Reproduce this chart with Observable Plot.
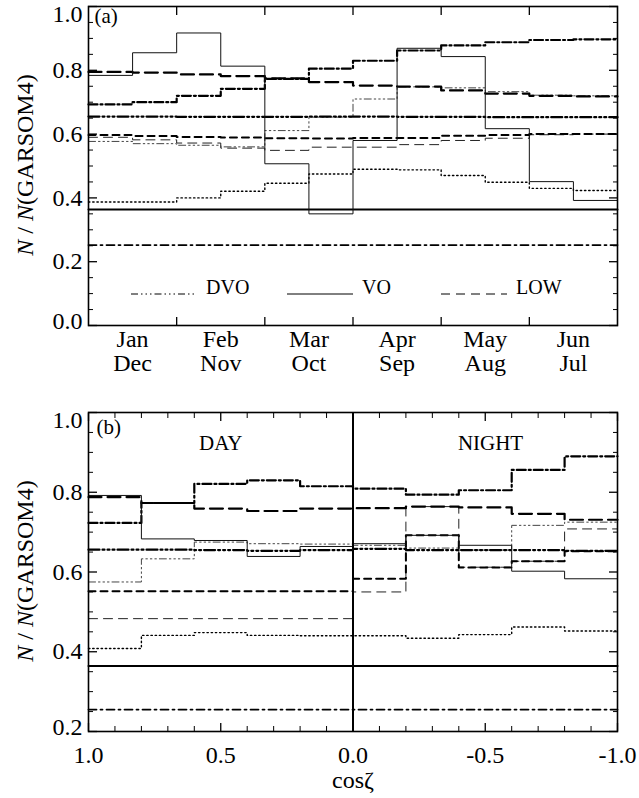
<!DOCTYPE html>
<html><head><meta charset="utf-8">
<script src="https://cdn.jsdelivr.net/npm/d3@7"></script>
<script src="https://cdn.jsdelivr.net/npm/@observablehq/plot@0.6"></script>
<style>
body{margin:0;background:#fff;}
#wrap{width:639px;height:798px;position:relative;overflow:hidden;}
#wrap svg{display:block;}
.legend{position:absolute;font-family:'Liberation Serif','Times New Roman',serif;font-size:20px;display:flex;align-items:flex-end;}
.legend svg{display:inline-block;margin-right:9px;}
</style></head><body><div id="wrap"></div>
<script>
// ---------- DATA ----------
const monthsTop = ["Jan", "Feb", "Mar", "Apr", "May", "Jun"];
const monthsBottom = ["Dec", "Nov", "Oct", "Sep", "Aug", "Jul"];
// panel (a): twelve half-month bins (Jan/Dec ... Jun/Jul)
const aVO        = [0.784, 0.855, 0.917, 0.813, 0.507, 0.350, 0.580, 0.869, 0.843, 0.617, 0.451, 0.392];
const aLongDash  = [0.795, 0.793, 0.787, 0.782, 0.775, 0.763, 0.752, 0.749, 0.737, 0.727, 0.720, 0.718];
const aDashDot   = [0.693, 0.700, 0.720, 0.742, 0.773, 0.805, 0.830, 0.862, 0.878, 0.888, 0.895, 0.897];
const aDVOthick  = [0.655, 0.655, 0.654, 0.654, 0.654, 0.655, 0.655, 0.654, 0.654, 0.653, 0.653, 0.653];
const aDVOthin   = [0.577, 0.570, 0.565, 0.560, 0.611, 0.653, 0.710, 0.748, 0.745, 0.733, 0.722, 0.720];
const aShortDash = [0.597, 0.594, 0.591, 0.589, 0.587, 0.586, 0.588, 0.588, 0.595, 0.597, 0.600, 0.600];
const aLOW       = [0.590, 0.582, 0.572, 0.556, 0.549, 0.559, 0.559, 0.567, 0.580, 0.587, 0.598, 0.600];
const aDotted    = [0.387, 0.387, 0.400, 0.421, 0.446, 0.475, 0.490, 0.488, 0.470, 0.449, 0.430, 0.423];
const aSolidFlat = [0.364];
const aDashDotFlat = [0.252];
// panel (b): ten cos(zenith) bins from 1.0 down to -1.0
const bVO        = [0.792, 0.683, 0.679, 0.639, 0.664, 0.671, 0.692, 0.667, 0.602, 0.583];
const bLongDash  = [0.788, 0.773, 0.759, 0.753, 0.759, 0.760, 0.764, 0.762, 0.746, 0.731];
const bDashDot   = [0.723, 0.773, 0.821, 0.830, 0.815, 0.809, 0.794, 0.805, 0.856, 0.890];
const bDVOthick  = [0.656, 0.656, 0.655, 0.653, 0.655, 0.658, 0.655, 0.655, 0.655, 0.653];
const bDVOthin   = [0.575, 0.633, 0.675, 0.671, 0.670, 0.667, 0.660, 0.655, 0.717, 0.725];
const bShortDash = [0.552, 0.552, 0.552, 0.552, 0.552, 0.583, 0.692, 0.611, 0.627, 0.652];
const bLOW       = [0.483, 0.483, 0.483, 0.483, 0.483, 0.550, 0.764, 0.612, 0.627, 0.708];
const bDotted    = [0.408, 0.441, 0.448, 0.441, 0.440, 0.440, 0.434, 0.443, 0.462, 0.452];
const bSolidFlat = [0.364];
const bDashDotFlat = [0.255];
const yTicksA = [0.0, 0.2, 0.4, 0.6, 0.8, 1.0];
const yTicksB = [0.2, 0.4, 0.6, 0.8, 1.0];
const xTicksB = [1.0, 0.5, 0.0, -0.5, -1.0];
const legendLabels = ["DVO", "VO", "LOW"];
const dayNight = ["DAY", "NIGHT"];

// ---------- STYLES ----------
const FONT = "'Liberation Serif','Times New Roman',serif";
const st = {
  VO:        {stroke: "#111", strokeWidth: 1},
  longDash:  {stroke: "#000", strokeWidth: 2.2, strokeDasharray: "13,6"},
  dashDot:   {stroke: "#000", strokeWidth: 2.2, strokeDasharray: "9,3,2,3"},
  dvoThick:  {stroke: "#000", strokeWidth: 2.2, strokeDasharray: "11,3,2,3,2,3,2,3"},
  dvoThin:   {stroke: "#444", strokeWidth: 1, strokeDasharray: "7,3,1.5,3,1.5,3,1.5,3"},
  shortDash: {stroke: "#000", strokeWidth: 2, strokeDasharray: "7,5"},
  low:       {stroke: "#222", strokeWidth: 1, strokeDasharray: "9,6"},
  dotted:    {stroke: "#000", strokeWidth: 1.4, strokeDasharray: "1.4,2.8"},
  solid:     {stroke: "#000", strokeWidth: 2},
  dashDotLo: {stroke: "#000", strokeWidth: 1.8, strokeDasharray: "8,4,2,4"}
};

function steps(values, x0, dx, n) {
  const count = n ?? values.length;
  const vals = values.length === 1 ? Array(count).fill(values[0]) : values;
  const pts = vals.map((v, i) => ({x: x0 + i * dx, y: v}));
  pts.push({x: x0 + vals.length * dx, y: vals[vals.length - 1]});
  return pts;
}
function stepLine(values, x0, dx, style, n) {
  return Plot.line(steps(values, x0, dx, n), {x: "x", y: "y", curve: "step-after", ...style});
}
const minor = (lo, hi, step, majors) =>
  d3.range(Math.round((hi - lo) / step) + 1).map(i => +(lo + i * step).toFixed(3))
    .filter(v => !majors.some(m => Math.abs(m - v) < 1e-6));
const blank = () => "";
const f1 = d => d.toFixed(1);

function addYTitle(svg, cy) {
  const t = d3.select(svg).append("text")
    .attr("transform", `translate(27,${cy}) rotate(-90)`)
    .attr("text-anchor", "middle").attr("dominant-baseline", "middle")
    .style("font-family", FONT).style("font-size", "24px").attr("fill", "#000");
  t.append("tspan").style("font-style", "italic").text("N");
  t.append("tspan").text(" / ");
  t.append("tspan").style("font-style", "italic").text("N");
  t.append("tspan").text("(GARSOM4)");
}
// y tick labels: the top one hangs below its tick, the bottom one sits a little above
function yLabels(ticks) {
  const top = ticks[ticks.length - 1], bottom = ticks[0];
  const mid = ticks.slice(1, -1);
  const common = {anchor: "left", tickSize: 0, tickPadding: 6, tickFormat: f1, label: null};
  return [
    Plot.axisY(mid, common),
    Plot.axisY([top], {...common, dy: 8}),
    Plot.axisY([bottom], {...common, dy: -4})
  ];
}

// ---------- PANEL (a) ----------
const hb = 0.5;
const chartA = Plot.plot({
  width: 639, height: 390,
  marginLeft: 88, marginRight: 22, marginTop: 6, marginBottom: 65,
  style: {fontFamily: FONT, fontSize: "24px", background: "white", color: "#000"},
  x: {domain: [0, 6], axis: null},
  y: {domain: [0, 1], axis: null},
  marks: [
    stepLine(aSolidFlat, 0, 6, st.solid, 1),
    stepLine(aDashDotFlat, 0, 6, st.dashDotLo, 1),
    stepLine(aDotted, 0, hb, st.dotted),
    stepLine(aLOW, 0, hb, st.low),
    stepLine(aShortDash, 0, hb, st.shortDash),
    stepLine(aDVOthin, 0, hb, st.dvoThin),
    stepLine(aDVOthick, 0, hb, st.dvoThick),
    stepLine(aLongDash, 0, hb, st.longDash),
    stepLine(aDashDot, 0, hb, st.dashDot),
    stepLine(aVO, 0, hb, st.VO),
    ...yLabels(yTicksA),
    Plot.axisY(yTicksA, {anchor: "left", tickSize: -9, tickFormat: blank, label: null, strokeWidth: 1.3}),
    Plot.axisY(minor(0, 1, 0.05, yTicksA), {anchor: "left", tickSize: -5, tickFormat: blank, label: null}),
    Plot.axisY(yTicksA, {anchor: "right", tickSize: -9, tickFormat: blank, label: null, strokeWidth: 1.3}),
    Plot.axisY(minor(0, 1, 0.05, yTicksA), {anchor: "right", tickSize: -5, tickFormat: blank, label: null}),
    Plot.axisX([1, 2, 3, 4, 5], {anchor: "bottom", tickSize: -8, tickFormat: blank, label: null, strokeWidth: 1.3}),
    Plot.axisX([1, 2, 3, 4, 5], {anchor: "top", tickSize: -8, tickFormat: blank, label: null, strokeWidth: 1.3}),
    Plot.text(monthsTop, {x: (d, i) => i + 0.5, frameAnchor: "bottom", dy: 4, lineAnchor: "top", lineHeight: 1.0,
      text: (d, i) => d + "\n" + monthsBottom[i], fontSize: 24}),
    Plot.text(["(a)"], {frameAnchor: "top-left", dx: 6, dy: 2, lineAnchor: "top", textAnchor: "start", fontSize: 21}),
    Plot.frame({stroke: "#000", strokeWidth: 1.6})
  ]
});

// ---------- PANEL (b) ----------
const bw = -0.2;
const chartB = Plot.plot({
  width: 639, height: 408,
  marginLeft: 88, marginRight: 22, marginTop: 22, marginBottom: 67,
  style: {fontFamily: FONT, fontSize: "24px", background: "white", color: "#000"},
  x: {domain: [1, -1], axis: null},
  y: {domain: [0.2, 1], axis: null},
  marks: [
    stepLine(bSolidFlat, 1, -2, st.solid, 1),
    stepLine(bDashDotFlat, 1, -2, st.dashDotLo, 1),
    stepLine(bDotted, 1, bw, st.dotted),
    stepLine(bLOW, 1, bw, st.low),
    stepLine(bShortDash, 1, bw, st.shortDash),
    stepLine(bDVOthin, 1, bw, st.dvoThin),
    stepLine(bDVOthick, 1, bw, st.dvoThick),
    stepLine(bLongDash, 1, bw, st.longDash),
    stepLine(bDashDot, 1, bw, st.dashDot),
    stepLine(bVO, 1, bw, st.VO),
    Plot.ruleX([0], {stroke: "#000", strokeWidth: 2}),
    ...yLabels(yTicksB),
    Plot.axisY(yTicksB, {anchor: "left", tickSize: -9, tickFormat: blank, label: null, strokeWidth: 1.3}),
    Plot.axisY(minor(0.2, 1, 0.05, yTicksB), {anchor: "left", tickSize: -5, tickFormat: blank, label: null}),
    Plot.axisY(yTicksB, {anchor: "right", tickSize: -9, tickFormat: blank, label: null, strokeWidth: 1.3}),
    Plot.axisY(minor(0.2, 1, 0.05, yTicksB), {anchor: "right", tickSize: -5, tickFormat: blank, label: null}),
    Plot.axisX(xTicksB, {anchor: "bottom", tickSize: -8, tickPadding: 22, tickFormat: f1, label: null, strokeWidth: 1.3}),
    Plot.axisX(minor(-1, 1, 0.1, xTicksB), {anchor: "bottom", tickSize: -5, tickFormat: blank, label: null}),
    Plot.axisX(xTicksB, {anchor: "top", tickSize: -8, tickFormat: blank, label: null, strokeWidth: 1.3}),
    Plot.axisX(minor(-1, 1, 0.1, xTicksB), {anchor: "top", tickSize: -5, tickFormat: blank, label: null}),
    Plot.text(["cosζ"], {frameAnchor: "bottom", dy: 56, fontSize: 24}),
    Plot.text(dayNight, {x: [0.5, -0.52], y: [0.922, 0.922], fontSize: 21}),
    Plot.text(["(b)"], {frameAnchor: "top-left", dx: 8, dy: 7, lineAnchor: "top", textAnchor: "start", fontSize: 21}),
    Plot.frame({stroke: "#000", strokeWidth: 1.6})
  ]
});

addYTitle(chartA, 165);
addYTitle(chartB, 571 - 390);

const wrap = document.getElementById("wrap");
wrap.appendChild(chartA);
wrap.appendChild(chartB);

// ---------- LEGEND (panel a) ----------
const legendStyles = [st.dvoThin, st.VO, st.low];
const legendLeft = [131, 287, 441];
legendLabels.forEach((lab, i) => {
  const s = legendStyles[i];
  const div = document.createElement("div");
  div.className = "legend";
  div.style.left = legendLeft[i] + "px";
  div.style.top = "277px";
  div.innerHTML = `<svg width="66" height="20"><line x1="0" x2="66" y1="17" y2="17" stroke="#000" stroke-width="${s.strokeWidth}" ${s.strokeDasharray ? `stroke-dasharray="${s.strokeDasharray}"` : ""}/></svg><span style="line-height:20px">${lab}</span>`;
  wrap.appendChild(div);
});
</script>
</body></html>
